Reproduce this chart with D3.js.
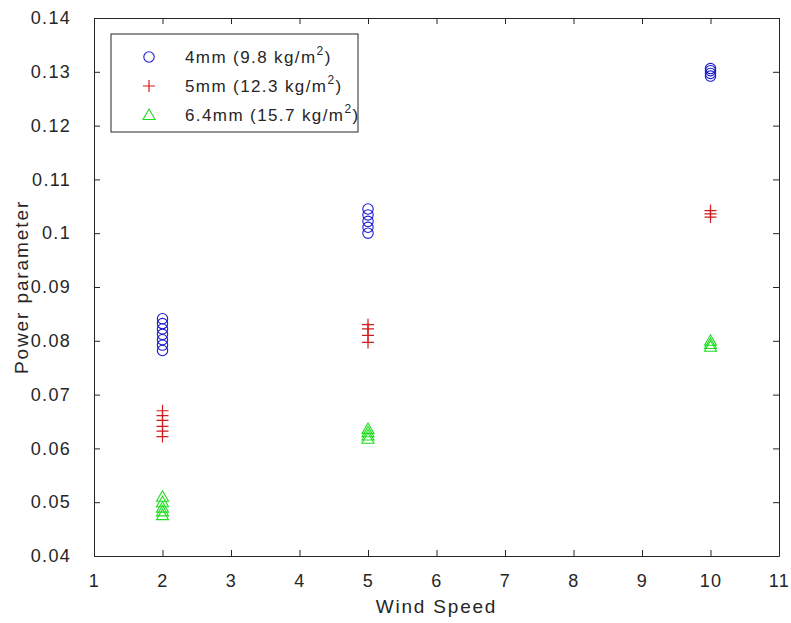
<!DOCTYPE html>
<html>
<head>
<meta charset="utf-8">
<script src="https://cdn.jsdelivr.net/npm/d3@7"></script>
<style>
  html, body { margin: 0; padding: 0; background: #fff; }
  svg { display: block; }
  text { font-family: Arial, "Liberation Sans", Helvetica, sans-serif; fill: #262626; }
</style>
</head>
<body>
<svg id="chart" width="791" height="623"></svg>
<script>
// Wind speeds at which each sample was taken
const windSpeeds = [2, 5, 10];

// Power parameter samples per wind speed, one array per panel thickness
const series4mm   = [
  [0.0782, 0.0792, 0.0802, 0.0812, 0.0822, 0.0832, 0.0841],
  [0.1000, 0.1011, 0.1022, 0.1034, 0.1045],
  [0.1292, 0.1297, 0.1302, 0.1306]
];
const series5mm   = [
  [0.0622, 0.0632, 0.0641, 0.0652, 0.0661, 0.0670],
  [0.0797, 0.0810, 0.0822, 0.0830],
  [0.1030, 0.1036, 0.1042]
];
const series6_4mm = [
  [0.0476, 0.0483, 0.0490, 0.0500, 0.0510],
  [0.0618, 0.0624, 0.0630, 0.0636],
  [0.0789, 0.0794, 0.0800]
];

const seriesNames = ["4mm (9.8 kg/m", "5mm (12.3 kg/m", "6.4mm (15.7 kg/m"];
const xTicks = [1, 2, 3, 4, 5, 6, 7, 8, 9, 10, 11];
const yTicks = [0.04, 0.05, 0.06, 0.07, 0.08, 0.09, 0.10, 0.11, 0.12, 0.13, 0.14];
const yTickLabels = ["0.04", "0.05", "0.06", "0.07", "0.08", "0.09", "0.1", "0.11", "0.12", "0.13", "0.14"];

const svg = d3.select("#chart");
const m = { left: 94, top: 18, right: 779, bottom: 556 };

const x = d3.scaleLinear().domain([1, 11]).range([m.left, m.right]);
const y = d3.scaleLinear().domain([0.04, 0.14]).range([m.bottom, m.top]);

const axisColor = "#262626";
const tickLen = 6;
const labelFont = "18px";
const labelSpacing = "1.3px";

// Axes: ticks drawn inward, box closed on all four sides
const gx = svg.append("g").attr("transform", `translate(0,${m.bottom})`)
  .call(d3.axisBottom(x).tickValues(xTicks).tickFormat(d3.format("d")).tickSizeInner(-tickLen).tickSizeOuter(0).tickPadding(18));
const gxTop = svg.append("g").attr("transform", `translate(0,${m.top})`)
  .call(d3.axisTop(x).tickValues(xTicks).tickFormat("").tickSizeInner(-tickLen).tickSizeOuter(0));
const gy = svg.append("g").attr("transform", `translate(${m.left},0)`)
  .call(d3.axisLeft(y).tickValues(yTicks).tickFormat((d, i) => yTickLabels[i]).tickSizeInner(-tickLen).tickSizeOuter(0).tickPadding(23));
const gyRight = svg.append("g").attr("transform", `translate(${m.right},0)`)
  .call(d3.axisRight(y).tickValues(yTicks).tickFormat("").tickSizeInner(-tickLen).tickSizeOuter(0));

[gx, gxTop, gy, gyRight].forEach(g => {
  g.select(".domain").attr("stroke", axisColor).attr("stroke-width", 1);
  g.selectAll(".tick line").attr("stroke", axisColor);
  g.selectAll(".tick text").attr("fill", axisColor).style("font-size", labelFont)
    .style("letter-spacing", labelSpacing)
    .style("font-family", "Arial, 'Liberation Sans', sans-serif");
});

// Axis titles
svg.append("text").attr("x", (m.left + m.right) / 2).attr("y", 613)
  .attr("text-anchor", "middle").style("font-size", "19px").style("letter-spacing", "1.8px")
  .text("Wind Speed");
svg.append("text").attr("transform", `translate(28,${(m.top + m.bottom) / 2}) rotate(-90)`)
  .attr("text-anchor", "middle").style("font-size", "19px").style("letter-spacing", "1.9px")
  .text("Power parameter");

// Marker shapes
const colors = ["#1c1ccf", "#d01c1c", "#1fdc1f"];
function circleMarker(g, cx, cy, c) {
  g.append("circle").attr("cx", cx).attr("cy", cy).attr("r", 5.2)
    .attr("fill", "none").attr("stroke", c).attr("stroke-width", 1.1);
}
function plusMarker(g, cx, cy, c) {
  g.append("path").attr("d", `M${cx - 6},${cy}H${cx + 6}M${cx},${cy - 6}V${cy + 6}`)
    .attr("fill", "none").attr("stroke", c).attr("stroke-width", 1.2);
}
function triMarker(g, cx, cy, c) {
  const s = 6;
  g.append("path").attr("d", `M${cx},${cy - s}L${cx + s},${cy + s * 0.75}L${cx - s},${cy + s * 0.75}Z`)
    .attr("fill", "none").attr("stroke", c).attr("stroke-width", 1.1);
}
const markers = [circleMarker, plusMarker, triMarker];
const allSeries = [series4mm, series5mm, series6_4mm];

const plot = svg.append("g");
allSeries.forEach((ser, si) => {
  ser.forEach((vals, wi) => {
    vals.forEach(v => markers[si](plot, x(windSpeeds[wi]), y(v), colors[si]));
  });
});

// Legend
const lg = svg.append("g");
lg.append("rect").attr("x", 111).attr("y", 34).attr("width", 247).attr("height", 98)
  .attr("fill", "#fff").attr("stroke", axisColor).attr("stroke-width", 1);
const rowY = [57, 86, 115];
seriesNames.forEach((name, i) => {
  markers[i](lg, 149, rowY[i], colors[i]);
  const t = lg.append("text").attr("x", 185).attr("y", rowY[i] + 6)
    .style("font-size", "17px").style("letter-spacing", "1.4px");
  t.append("tspan").text(name);
  t.append("tspan").attr("dy", -8).style("font-size", "12px").text("2");
  t.append("tspan").attr("dy", 8).text(")");
});
</script>
</body>
</html>
